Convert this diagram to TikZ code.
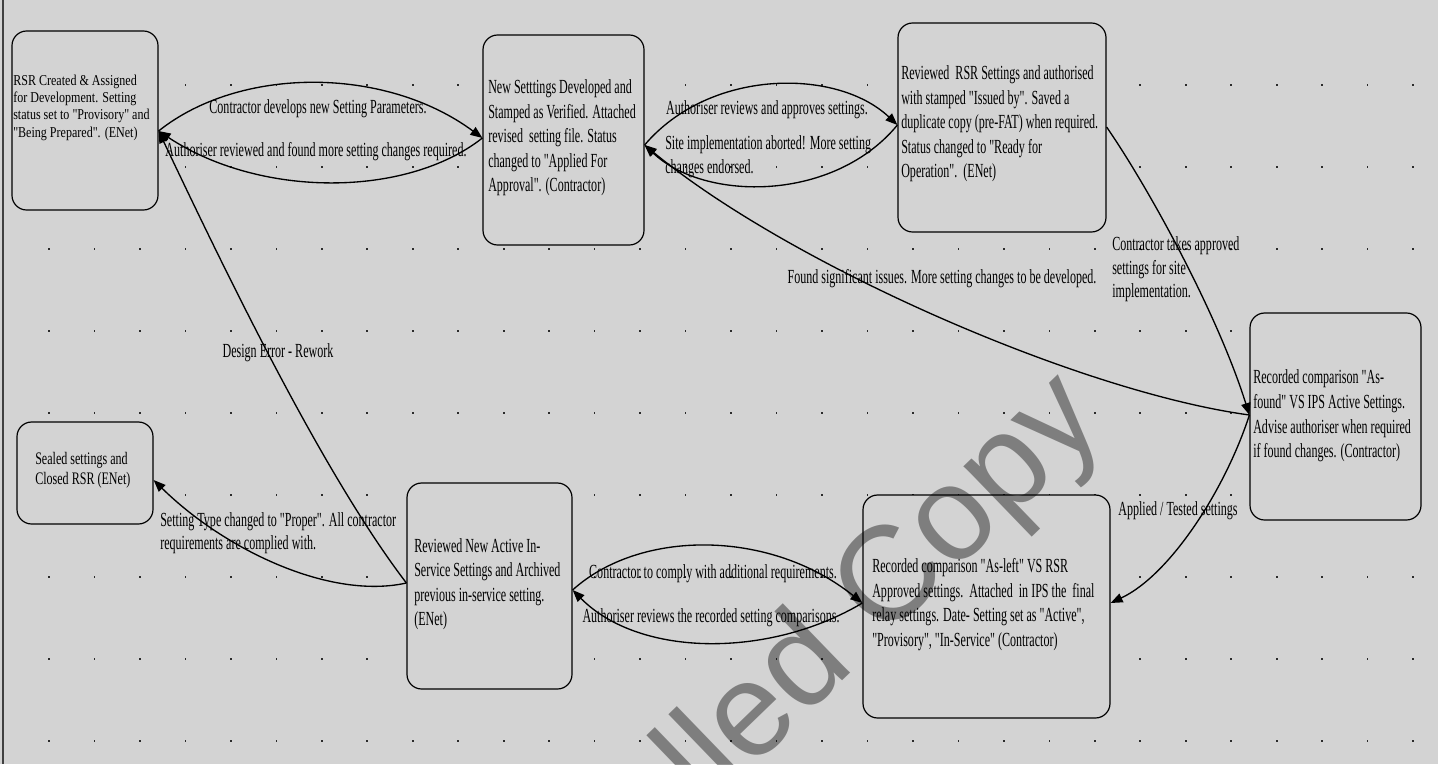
\documentclass[tikz,border=0pt]{standalone}
\usepackage{fontspec}
\setmainfont{Liberation Serif}
\newfontfamily\fmain[FakeStretch=0.6025]{Liberation Serif}
\newfontfamily\fsmall[FakeStretch=0.80]{Liberation Serif}
\newfontfamily\fmid[FakeStretch=0.685]{Liberation Serif}
\newfontfamily\fwm{Liberation Sans}
\usetikzlibrary{arrows.meta,calc}
\definecolor{bg}{HTML}{D3D3D3}
\definecolor{dotc}{HTML}{2A2A2A}
\begin{document}
\begin{tikzpicture}[x=0.75pt,y=-0.75pt,
  box/.style={draw=black, line width=0.9pt, fill=bg, rounded corners=11pt, inner sep=0pt},
  btxt/.style={inner sep=0pt, anchor=west, align=left, text=black, font=\fmain\fontsize{15pt}{18.4pt}\selectfont},
  lbl/.style={inner sep=0pt, align=center, text=black, font=\fmain\fontsize{15pt}{17.6pt}\selectfont},
  lbll/.style={lbl, align=left, anchor=west},
  edge/.style={draw=black, line width=1pt, -{Triangle[length=9pt,width=7pt]}},
  wmark/.style={inner sep=0pt, text=black, text opacity=0.4, font=\fwm\fontsize{100pt}{100pt}\selectfont}
]
\useasboundingbox (0,0) rectangle (1438,764);
\clip (0,0) rectangle (1438,764);
\fill[bg] (0,0) rectangle (1438,764);
\draw[line width=0.9pt, black!75] (3,0) -- (3,764);
% grid dots
\foreach \i in {0,...,30}{
  \foreach \j in {0,...,8}{
    \fill[dotc] ({49+45.47*\i-0.8},{85+82*\j-0.8}) rectangle +(1.6,1.6);
  }
}
% boxes
\node[box, minimum width=109.5pt, minimum height=134.25pt] (A) at (85,120.5) {};
\node[box, minimum width=120.75pt, minimum height=157.5pt] (B) at (563.5,140) {};
\node[box, minimum width=156pt, minimum height=156.75pt] (C) at (1002,127.5) {};
\node[box, minimum width=128.25pt, minimum height=155.25pt] (D) at (1335.5,416.5) {};
\node[box, minimum width=102pt, minimum height=76.5pt] (E) at (85,473) {};
\node[box, minimum width=123.75pt, minimum height=154.5pt] (F) at (489.5,586) {};
\node[box, minimum width=185.25pt, minimum height=167.25pt] (G) at (986.5,606.5) {};
% box texts
\node[btxt, font=\fsmall\fontsize{11.3pt}{13pt}\selectfont] (At) at (13,107.7) {RSR Created \& Assigned\\for Development. Setting\\status set to "Provisory" and\\"Being Prepared". (ENet)};
\node[btxt] (Bt) at (488,138) {New Setttings Developed and\\Stamped as Verified. Attached\\revised\ \ setting file. Status\\changed to "Applied For\\Approval". (Contractor)};
\node[btxt] (Ct) at (901,124) {Reviewed\ \ RSR Settings and authorised\\with stamped "Issued by". Saved a\\duplicate copy (pre-FAT) when required.\\Status changed to "Ready for\\Operation".\ \ (ENet)};
\node[btxt] (Dt) at (1253,416) {Recorded comparison "As-\\found" VS IPS Active Settings.\\Advise authoriser when required\\if found changes. (Contractor)};
\node[btxt, font=\fmid\fontsize{13.2pt}{15pt}\selectfont] (Et) at (35,470) {Sealed settings and\\Closed RSR (ENet)};
\node[btxt] (Ft) at (414,584) {Reviewed New Active In-\\Service Settings and Archived\\previous in-service setting.\\(ENet)};
\node[btxt] (Gt) at (872,604.7) {Recorded comparison "As-left" VS RSR\\Approved settings.\ \ Attached\ \ in IPS the\ \ final\\relay settings. Date- Setting set as "Active",\\"Provisory", "In-Service" (Contractor)};
% connectors
\draw[edge] ($(A.east)+(0,10.5)$) .. controls (240,66) and (385,66) .. ($(B.west)+(0,-2)$);
\draw[edge] ($(B.west)+(0,-2)$) .. controls (406,198) and (260,198) .. ($(A.east)+(0,10.5)$);
\draw[edge] ($(B.east)+(0,5)$) .. controls (710,68) and (837,68) .. ($(C.west)+(0,-2.5)$);
\draw[edge] ($(C.west)+(0,-2.5)$) .. controls (834,202) and (705,202) .. ($(B.east)+(0,5)$);
\draw[edge] ($(D.west)+(0,-1.5)$) .. controls (1080,392) and (790,265) .. ($(B.east)+(0,5)$);
\draw[edge] ($(C.east)+(0,-0.5)$) .. controls (1150,190) and (1218,315) .. ($(D.west)+(0,-1.5)$);
\draw[edge] ($(D.west)+(0,-1.5)$) .. controls (1225,490) and (1170,575) .. ($(G.east)+(0,-3.5)$);
\draw[edge] ($(F.east)+(0,4)$) .. controls (640,529) and (770,529) .. ($(G.west)+(0,-3.5)$);
\draw[edge] ($(G.west)+(0,-3.5)$) .. controls (770,658) and (640,658) .. ($(F.east)+(0,4)$);
\draw[edge] ($(F.west)+(0,-3)$) .. controls (330,600) and (225,550) .. ($(E.east)+(0,7)$);
\draw[edge] ($(F.west)+(0,-3)$) .. controls (320,470) and (220,260) .. ($(A.east)+(0,10.5)$);
% connector labels
\node[lbl] (l1) at (318,109) {Contractor develops new Setting Parameters.};
\node[lbl] (l2) at (316,152) {Authoriser reviewed and found more setting changes required.};
\node[lbl] (l3) at (767,110) {Authoriser reviews and approves settings.};
\node[lbll] (l4) at (665,156.5) {Site implementation aborted! More setting\\changes endorsed.};
\node[lbl] (l5) at (942,279) {Found significant issues. More setting changes to be developed.};
\node[lbll] (l6) at (1112,269.5) {Contractor takes approved\\settings for site\\implementation.};
\node[lbl] (l7) at (1178,511) {Applied / Tested settings};
\node[lbl] (l8) at (278,353) {Design Error - Rework};
\node[lbll] (l9) at (160,533) {Setting Type changed to "Proper". All contractor\\requirements are complied with.};
\node[lbl] (l10) at (713,574) {Contractor to comply with additional requirements.};
\node[lbl] (l11) at (711,618) {Authoriser reviews the recorded setting comparisons.};
% watermark
\node[wmark, rotate=44, anchor=base east] (wm) at (1108,425) {Uncontrolled Copy};
\end{tikzpicture}
\end{document}
